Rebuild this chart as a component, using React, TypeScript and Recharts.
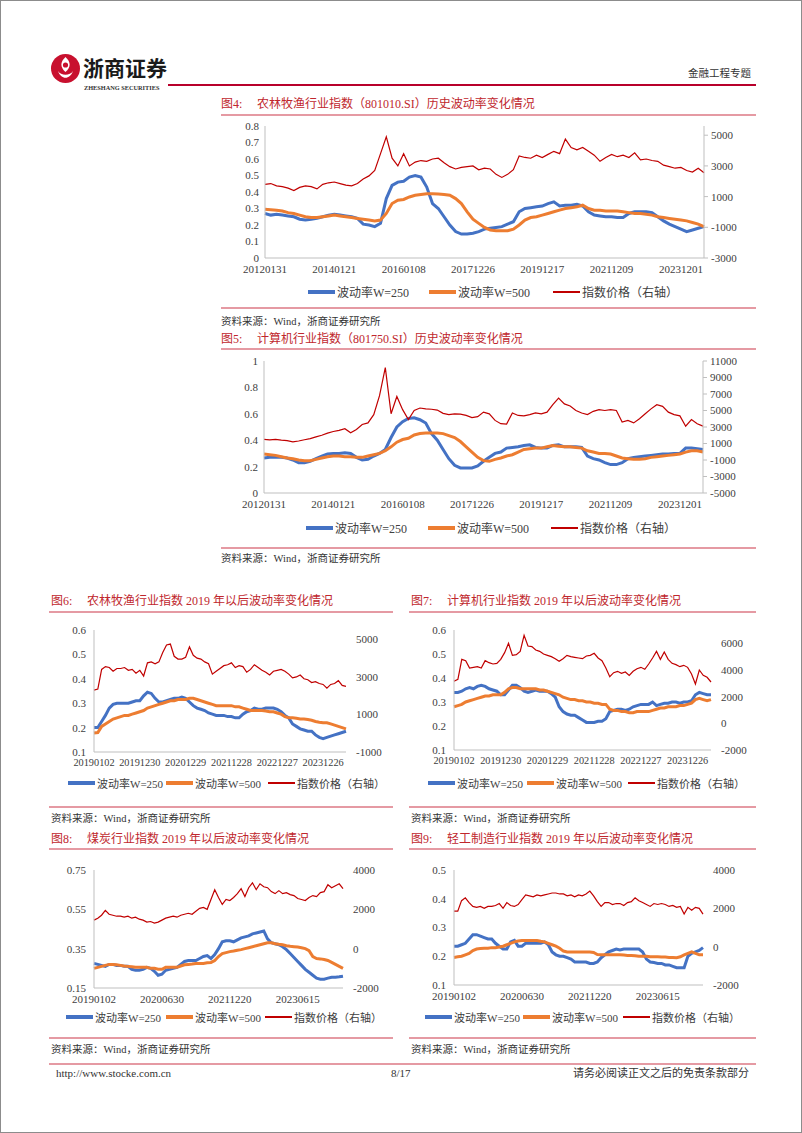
import React from "react";
import { Line, LineChart, XAxis, YAxis } from "recharts";

const BLUE = "#4472C4";
const ORANGE = "#ED7D31";
const RED = "#C00000";
const AXIS = "#BFBFBF";
const TITLE_RED = "#C0272D";
const PINK = "#E59AA3";
const SERIF = '"Liberation Serif", "Noto Sans CJK SC", serif';

const LEGEND = ["波动率W=250", "波动率W=500", "指数价格（右轴）"];
const SOURCE = "资料来源：Wind，浙商证券研究所";

// x tick labels
const X_LONG = ["20120131", "20140121", "20160108", "20171226", "20191217", "20211209", "20231201"];
const X_YEAR = ["20190102", "20191230", "20201229", "20211228", "20221227", "20231226"];
const X_HALF = ["20190102", "20200630", "20211220", "20230615"];

// 图4 农林牧渔 (bimonthly, 2012-2024)
const V250_4 = [0.27, 0.26, 0.265, 0.26, 0.255, 0.25, 0.235, 0.23, 0.235, 0.24,
  0.25, 0.26, 0.265, 0.26, 0.255, 0.25, 0.24, 0.205, 0.2, 0.19,
  0.21, 0.36, 0.44, 0.46, 0.465, 0.49, 0.5, 0.49, 0.43, 0.33,
  0.3, 0.25, 0.2, 0.16, 0.145, 0.145, 0.15, 0.16, 0.175, 0.18,
  0.185, 0.19, 0.205, 0.22, 0.28, 0.3, 0.305, 0.31, 0.315, 0.33,
  0.34, 0.315, 0.32, 0.32, 0.325, 0.315, 0.28, 0.26, 0.255, 0.25,
  0.25, 0.245, 0.245, 0.27, 0.28, 0.28, 0.28, 0.275, 0.25, 0.225,
  0.205, 0.19, 0.175, 0.16, 0.17, 0.18, 0.19];
const V500_4 = [0.295, 0.293, 0.29, 0.285, 0.275, 0.27, 0.26, 0.25, 0.245, 0.245,
  0.25, 0.255, 0.26, 0.255, 0.25, 0.245, 0.24, 0.235, 0.23, 0.225,
  0.23, 0.27, 0.33, 0.35, 0.355, 0.37, 0.38, 0.385, 0.39, 0.39,
  0.388, 0.385, 0.38, 0.36, 0.33, 0.28, 0.235, 0.21, 0.185, 0.17,
  0.165, 0.165, 0.165, 0.175, 0.2, 0.23, 0.245, 0.25, 0.26, 0.27,
  0.28, 0.29, 0.3, 0.305, 0.31, 0.32, 0.3, 0.29, 0.29, 0.285,
  0.285, 0.285, 0.28, 0.275, 0.27, 0.27, 0.265, 0.26, 0.25, 0.245,
  0.24, 0.235, 0.23, 0.225, 0.215, 0.205, 0.19];
const PRICE_4 = [1800, 1850, 1700, 1650, 1550, 1400, 1600, 1700, 1650, 1500,
  1800, 1900, 1950, 1850, 1750, 1700, 1850, 2150, 2350, 2700,
  3800, 4900, 3500, 3000, 3800, 3000, 3250, 3350, 3300, 3450,
  3500, 3200, 2950, 2800, 2900, 2950, 3000, 2750, 2850, 2800,
  2450, 2250, 2450, 2750, 3650, 3550, 3500, 3700, 3550, 3750,
  3950, 3800, 4750, 4200, 4050, 4200, 3950, 3700, 3300, 3550,
  3750, 3600, 3700, 3550, 3850, 3400, 3450, 3350, 3300, 3050,
  2950, 2850, 2900, 2700, 2600, 2850, 2550];

// 图5 计算机
const V250_5 = [0.265, 0.27, 0.27, 0.27, 0.265, 0.25, 0.23, 0.23, 0.24, 0.26,
  0.28, 0.295, 0.3, 0.3, 0.305, 0.3, 0.27, 0.25, 0.255, 0.28,
  0.3, 0.33, 0.42, 0.5, 0.54, 0.565, 0.57, 0.555, 0.53, 0.45,
  0.4, 0.33, 0.26, 0.21, 0.19, 0.19, 0.19, 0.205, 0.24, 0.27,
  0.3, 0.31, 0.34, 0.345, 0.35, 0.36, 0.365, 0.345, 0.34, 0.34,
  0.36, 0.365, 0.35, 0.35, 0.35, 0.345, 0.28, 0.26, 0.25, 0.23,
  0.215, 0.215, 0.23, 0.26, 0.27, 0.275, 0.28, 0.285, 0.29, 0.295,
  0.295, 0.3, 0.3, 0.34, 0.34, 0.335, 0.33];
const V500_5 = [0.295, 0.29, 0.285, 0.275, 0.265, 0.26, 0.25, 0.245, 0.245, 0.255,
  0.265, 0.275, 0.28, 0.28, 0.275, 0.275, 0.27, 0.27, 0.28, 0.29,
  0.3, 0.32, 0.35, 0.385, 0.405, 0.415, 0.44, 0.45, 0.455, 0.455,
  0.455, 0.45, 0.435, 0.42, 0.39, 0.35, 0.31, 0.27, 0.245, 0.24,
  0.255, 0.265, 0.28, 0.29, 0.31, 0.33, 0.335, 0.34, 0.34, 0.35,
  0.36, 0.355, 0.35, 0.35, 0.345, 0.34, 0.32, 0.31, 0.3, 0.3,
  0.295, 0.28, 0.265, 0.26, 0.255, 0.255, 0.26, 0.27, 0.275, 0.28,
  0.285, 0.29, 0.295, 0.31, 0.32, 0.32, 0.31];
const PRICE_5 = [1500, 1450, 1500, 1400, 1350, 1200, 1300, 1450, 1600, 1800,
  2000, 2250, 2450, 2600, 2800, 2300, 2700, 3300, 3500, 4500,
  6800, 10200, 4600, 6700, 5100, 3900, 5000, 5300, 5200, 5150,
  5050, 4650, 4500, 4600, 4550, 4400, 4150, 4250, 4800, 4600,
  3800, 3400, 3350, 4700, 4400, 4350, 4500, 4700, 4600, 4800,
  5700, 6500, 5800, 5550, 5000, 4700, 4500, 4900, 5100, 5000,
  5100, 5000, 3600, 3800, 3500, 4000, 4600, 5200, 5700, 5500,
  4800, 4500, 4350, 3100, 3900, 3400, 3100];

// 图6 农林牧渔 2019以后 (monthly)
const V250_6 = [0.2, 0.2, 0.225, 0.25, 0.28, 0.295, 0.3, 0.3, 0.3, 0.3,
  0.305, 0.31, 0.31, 0.33, 0.345, 0.34, 0.32, 0.305, 0.305, 0.31,
  0.315, 0.32, 0.32, 0.325, 0.32, 0.305, 0.29, 0.28, 0.275, 0.27,
  0.26, 0.255, 0.25, 0.25, 0.25, 0.245, 0.245, 0.24, 0.24, 0.255,
  0.265, 0.27, 0.28, 0.275, 0.275, 0.28, 0.28, 0.28, 0.275, 0.265,
  0.25, 0.24, 0.215, 0.205, 0.195, 0.19, 0.185, 0.185, 0.17, 0.16,
  0.155, 0.16, 0.165, 0.17, 0.175, 0.18, 0.185];
const V500_6 = [0.178, 0.18, 0.205, 0.215, 0.225, 0.235, 0.24, 0.245, 0.25, 0.25,
  0.255, 0.26, 0.265, 0.27, 0.28, 0.285, 0.29, 0.295, 0.3, 0.305,
  0.31, 0.31, 0.315, 0.315, 0.315, 0.32, 0.32, 0.315, 0.31, 0.305,
  0.3, 0.295, 0.29, 0.29, 0.29, 0.29, 0.29, 0.285, 0.285, 0.28,
  0.275, 0.27, 0.27, 0.27, 0.27, 0.268, 0.265, 0.265, 0.26, 0.255,
  0.245, 0.24, 0.24, 0.238, 0.235, 0.235, 0.233, 0.23, 0.225, 0.222,
  0.22, 0.22, 0.215, 0.21, 0.205, 0.2, 0.195];
const PRICE_6 = [2300, 2350, 3400, 3550, 3500, 3300, 3450, 3450, 3500, 3350,
  3400, 3200, 3350, 3050, 3750, 3800, 3700, 3800, 4300, 4700,
  4750, 4100, 3950, 3950, 4050, 4600, 4150, 4000, 3950, 3800,
  3700, 3150, 3300, 3450, 3600, 3650, 3750, 3500, 3600, 3550,
  3250, 3400, 3650, 3500, 3350, 3250, 3100, 3300, 3350, 3400,
  3300, 3150, 2950, 3000, 3100, 2900, 2850, 2700, 2750, 2650,
  2600, 2400, 2600, 2650, 2800, 2550, 2500];

// 图7 计算机 2019以后
const V250_7 = [0.34, 0.34, 0.345, 0.355, 0.36, 0.355, 0.365, 0.37, 0.365, 0.355,
  0.35, 0.345, 0.33, 0.33, 0.35, 0.37, 0.37, 0.36, 0.345, 0.34,
  0.345, 0.35, 0.345, 0.345, 0.345, 0.335, 0.32, 0.28, 0.26, 0.25,
  0.245, 0.245, 0.235, 0.225, 0.215, 0.215, 0.215, 0.22, 0.22, 0.23,
  0.26, 0.265, 0.27, 0.27, 0.265, 0.27, 0.28, 0.285, 0.29, 0.29,
  0.29, 0.3, 0.285, 0.29, 0.295, 0.295, 0.3, 0.3, 0.295, 0.3,
  0.3, 0.305, 0.33, 0.34, 0.335, 0.33, 0.33];
const V500_7 = [0.28, 0.285, 0.29, 0.3, 0.305, 0.31, 0.315, 0.32, 0.325, 0.325,
  0.33, 0.33, 0.33, 0.34, 0.355, 0.36, 0.36, 0.355, 0.355, 0.355,
  0.355, 0.355, 0.35, 0.35, 0.345, 0.34, 0.335, 0.33, 0.32, 0.315,
  0.31, 0.31, 0.305, 0.305, 0.3, 0.3, 0.295, 0.295, 0.29, 0.29,
  0.27, 0.265, 0.265, 0.26, 0.26, 0.255, 0.255, 0.26, 0.26, 0.26,
  0.26, 0.265, 0.27, 0.275, 0.275, 0.28, 0.28, 0.28, 0.285, 0.285,
  0.29, 0.295, 0.31, 0.315, 0.31, 0.305, 0.31];
const PRICE_7 = [3150, 3300, 4800, 4700, 4150, 4200, 4250, 4150, 4700, 4550,
  4450, 4500, 4800, 5300, 6000, 5100, 5150, 5400, 6600, 5800,
  5750, 5500, 5400, 5200, 5100, 5000, 4850, 4650, 4850, 5100,
  5000, 4950, 4900, 4850, 5050, 5100, 5250, 4900, 4700, 4150,
  3500, 3800, 3900, 3750, 3850, 3600, 3900, 4100, 4200, 4050,
  4450, 4900, 5400, 4800, 5350, 4800, 4500, 4400, 4250, 4350,
  4200, 3700, 2950, 4000, 3600, 3450, 3100];

// 图8 煤炭 2019以后
const V250_8 = [0.275, 0.27, 0.265, 0.26, 0.27, 0.27, 0.265, 0.265, 0.26, 0.26,
  0.245, 0.24, 0.24, 0.245, 0.255, 0.25, 0.235, 0.215, 0.22, 0.24,
  0.245, 0.25, 0.255, 0.27, 0.285, 0.29, 0.29, 0.29, 0.3, 0.31,
  0.315, 0.3, 0.32, 0.35, 0.385, 0.39, 0.39, 0.385, 0.395, 0.405,
  0.41, 0.415, 0.425, 0.43, 0.435, 0.44, 0.4, 0.38, 0.375, 0.37,
  0.36, 0.345, 0.325, 0.305, 0.285, 0.265, 0.245, 0.23, 0.215, 0.2,
  0.195, 0.195, 0.2, 0.205, 0.205, 0.207, 0.21];
const V500_8 = [0.25, 0.255, 0.26, 0.265, 0.27, 0.27, 0.268, 0.265, 0.262, 0.26,
  0.258, 0.255, 0.255, 0.255, 0.255, 0.25, 0.25, 0.245, 0.245, 0.255,
  0.255, 0.255, 0.255, 0.262, 0.268, 0.27, 0.272, 0.275, 0.275, 0.275,
  0.278, 0.28, 0.29, 0.31, 0.325, 0.33, 0.335, 0.338, 0.342, 0.345,
  0.35, 0.355, 0.36, 0.365, 0.37, 0.375, 0.38, 0.38, 0.375, 0.372,
  0.37, 0.365, 0.362, 0.36, 0.358, 0.355, 0.35, 0.34, 0.31, 0.3,
  0.298, 0.295, 0.29, 0.28, 0.27, 0.26, 0.25];
const PRICE_8 = [1450, 1550, 1700, 1950, 1750, 1700, 1650, 1650, 1600, 1650,
  1550, 1600, 1500, 1450, 1350, 1380, 1300, 1350, 1450, 1550,
  1600, 1650, 1600, 1700, 1750, 1800, 1750, 1900, 2050, 2100,
  2000, 2500, 3000, 2600, 2250, 2500, 2450, 2600, 2800, 3050,
  2650, 3100, 3350, 3000, 3300, 3150, 3100, 2900, 2800, 2950,
  2800, 2850, 2750, 2700, 2550, 2500, 2450, 2600, 2700, 2650,
  2850, 2900, 3250, 3100, 3200, 3300, 3050];

// 图9 轻工制造 2019以后
const V250_9 = [0.235, 0.235, 0.24, 0.245, 0.26, 0.275, 0.275, 0.27, 0.265, 0.26,
  0.26, 0.245, 0.235, 0.225, 0.225, 0.25, 0.255, 0.235, 0.235, 0.245,
  0.245, 0.245, 0.245, 0.245, 0.25, 0.24, 0.215, 0.205, 0.2, 0.2,
  0.195, 0.19, 0.18, 0.18, 0.18, 0.18, 0.175, 0.175, 0.18, 0.195,
  0.205, 0.215, 0.22, 0.225, 0.222, 0.225, 0.225, 0.225, 0.225, 0.225,
  0.215, 0.19, 0.18, 0.178, 0.175, 0.175, 0.17, 0.17, 0.165, 0.16,
  0.16, 0.16, 0.2, 0.21, 0.215, 0.22, 0.23];
const V500_9 = [0.196, 0.198, 0.2, 0.205, 0.21, 0.22, 0.225, 0.227, 0.228, 0.228,
  0.23, 0.23, 0.232, 0.235, 0.24, 0.245, 0.25, 0.253, 0.255, 0.255,
  0.255, 0.255, 0.255, 0.252, 0.25, 0.245, 0.24, 0.235, 0.228, 0.218,
  0.215, 0.215, 0.215, 0.215, 0.215, 0.215, 0.215, 0.213, 0.206, 0.205,
  0.205, 0.205, 0.205, 0.205, 0.205, 0.204, 0.203, 0.203, 0.202, 0.2,
  0.2, 0.2, 0.198, 0.198, 0.198, 0.197, 0.197, 0.196, 0.196, 0.195,
  0.198, 0.205, 0.21, 0.215, 0.21, 0.205, 0.205];
const PRICE_9 = [1850, 1850, 2400, 2550, 2300, 2100, 2050, 2100, 2000, 2100,
  2100, 2150, 2250, 2000, 2300, 2150, 2100, 2200, 2450, 2700,
  2650, 2600, 2700, 2650, 2700, 2750, 2800, 2800, 2750, 2750,
  2650, 2700, 2600, 2700, 2650, 2750, 2900, 2650, 2350, 2100,
  2300, 2300, 2200, 2250, 2250, 2150, 2300, 2350, 2550, 2400,
  2300, 2200, 2100, 2250, 2200, 2250, 2200, 2100, 2150, 2050,
  2100, 1700, 2050, 1900, 2050, 2000, 1700];

type ChartProps = {
  left: number;
  top: number;
  width: number;
  height: number;
  v250: number[];
  v500: number[];
  price: number[];
  xLabels: string[];
  step: number;
  yL: [number, number];
  yLTicks: number[];
  yR: [number, number];
  yRTicks: number[];
  rightLine: boolean;
  fs: number;
  xfs: number;
};

function VolChart(p: ChartProps) {
  const WL = 50;
  const WR = 60;
  const MT = 8;
  const XH = 24;
  const data = p.v250.map((v, i) => ({ i, a: v, b: p.v500[i], c: p.price[i] }));
  const xTicks = p.xLabels.map((_, k) => k * p.step);
  const tick = { fontSize: p.fs, fill: "#404040", fontFamily: SERIF };
  return (
    <div style={{ position: "absolute", left: p.left - WL, top: p.top - MT }}>
      <LineChart
        width={WL + p.width + WR}
        height={MT + p.height + XH}
        data={data}
        margin={{ top: MT, right: 0, bottom: 0, left: 0 }}
      >
        <XAxis
          dataKey="i"
          type="number"
          domain={[0, data.length - 1]}
          ticks={xTicks}
          interval={0}
          tickFormatter={(v) => p.xLabels[Math.round(v / p.step)]}
          tick={{ ...tick, fontSize: p.xfs }}
          tickLine={false}
          tickSize={4}
          tickMargin={3}
          axisLine={{ stroke: AXIS }}
          height={XH}
        />
        <YAxis
          yAxisId="l"
          domain={p.yL}
          ticks={p.yLTicks}
          interval={0}
          tick={tick}
          tickLine={false}
          tickSize={3}
          tickMargin={p.rightLine ? 3 : 5}
          axisLine={{ stroke: AXIS }}
          width={WL}
        />
        <YAxis
          yAxisId="r"
          orientation="right"
          domain={p.yR}
          ticks={p.yRTicks}
          interval={0}
          tick={tick}
          tickLine={p.rightLine ? { stroke: AXIS } : false}
          tickSize={p.rightLine ? 4 : 5}
          tickMargin={p.rightLine ? 3 : 5}
          axisLine={p.rightLine ? { stroke: AXIS } : false}
          width={WR}
        />
        <Line yAxisId="l" dataKey="a" stroke={BLUE} strokeWidth={3} dot={false} isAnimationActive={false} />
        <Line yAxisId="l" dataKey="b" stroke={ORANGE} strokeWidth={3} dot={false} isAnimationActive={false} />
        <Line yAxisId="r" dataKey="c" stroke={RED} strokeWidth={1.2} dot={false} isAnimationActive={false} />
      </LineChart>
    </div>
  );
}

function Txt(props: {
  x?: number;
  right?: number;
  y: number;
  size: number;
  color?: string;
  bold?: boolean;
  family?: string;
  children: React.ReactNode;
}) {
  return (
    <div
      style={{
        position: "absolute",
        left: props.x,
        right: props.right,
        top: props.y - props.size * 0.6,
        fontSize: props.size,
        lineHeight: `${props.size * 1.2}px`,
        color: props.color ?? "#333",
        fontWeight: props.bold ? 700 : 400,
        fontFamily: props.family ?? SERIF,
        whiteSpace: "nowrap",
      }}
    >
      {props.children}
    </div>
  );
}

function Rule({ x1, x2, y, color = PINK, h = 1.5 }: { x1: number; x2: number; y: number; color?: string; h?: number }) {
  return <div style={{ position: "absolute", left: x1, top: y - h / 2, width: x2 - x1, height: h, background: color }} />;
}

function Title({ x, y, num, text }: { x: number; y: number; num: number; text: string }) {
  return (
    <Txt x={x} y={y} size={12} color={TITLE_RED}>
      <span style={{ display: "inline-block", width: 36 }}>图{num}:</span>
      {text}
    </Txt>
  );
}

function VolLegend({ y, xs, fs }: { y: number; xs: number[]; fs: number }) {
  const marks = [
    { color: BLUE, h: 3.5 },
    { color: ORANGE, h: 3.5 },
    { color: RED, h: 1.5 },
  ];
  return (
    <>
      {marks.map((m, k) => (
        <div
          key={k}
          style={{
            position: "absolute",
            left: xs[k],
            top: y - 10,
            height: 20,
            display: "flex",
            alignItems: "center",
            fontSize: fs,
            fontFamily: SERIF,
            color: "#404040",
            whiteSpace: "nowrap",
          }}
        >
          <span style={{ display: "inline-block", width: 27, height: m.h, background: m.color, marginRight: 2 }} />
          <span>{LEGEND[k]}</span>
        </div>
      ))}
    </>
  );
}

function Logo() {
  return (
    <svg style={{ position: "absolute", left: 49, top: 52 }} width={31} height={31} viewBox="0 0 31 31">
      <circle cx={15.5} cy={15.5} r={14.5} fill="#C8102E" />
      <path d="M15.5 4 C10 9 10 14 15.5 19 C21 14 21 9 15.5 4 Z" fill="#fff" />
      <path d="M8 18 C11 23 20 23 23 18 C20 27 11 27 8 18 Z" fill="#fff" />
      <circle cx={15.5} cy={12} r={2.6} fill="#C8102E" />
    </svg>
  );
}

export default function App() {
  return (
    <div
      style={{
        position: "absolute",
        left: 0,
        top: 0,
        width: 802,
        height: 1133,
        background: "#fff",
        border: "1px solid #8c8c8c",
        boxSizing: "border-box",
        overflow: "hidden",
        fontFamily: SERIF,
      }}
    >
      {/* header */}
      <Logo />
      <Txt x={82} y={67} size={21} bold color="#1a1a1a" family='"Noto Sans CJK SC", sans-serif'>
        浙商证券
      </Txt>
      <Txt x={83} y={87} size={6.3} bold color="#333">
        ZHESHANG SECURITIES
      </Txt>
      <Rule x1={167} x2={755} y={84} color="#B8002B" h={2} />
      <Txt x={687} y={73} size={10.5} color="#333">
        金融工程专题
      </Txt>

      {/* 图4 */}
      <Title x={220} y={103} num={4} text="农林牧渔行业指数（801010.SI）历史波动率变化情况" />
      <Rule x1={220} x2={755} y={114} />
      <VolChart
        left={264} top={125} width={439} height={132}
        v250={V250_4} v500={V500_4} price={PRICE_4}
        xLabels={X_LONG} step={12}
        yL={[0, 0.8]} yLTicks={[0, 0.1, 0.2, 0.3, 0.4, 0.5, 0.6, 0.7, 0.8]}
        yR={[-3000, 5600]} yRTicks={[-3000, -1000, 1000, 3000, 5000]}
        rightLine fs={11} xfs={11}
      />
      <VolLegend y={291} xs={[307, 428, 552]} fs={12} />
      <Rule x1={220} x2={755} y={307} />
      <Txt x={220} y={321} size={10.5}>{SOURCE}</Txt>

      {/* 图5 */}
      <Title x={220} y={338} num={5} text="计算机行业指数（801750.SI）历史波动率变化情况" />
      <Rule x1={220} x2={755} y={348} />
      <VolChart
        left={263} top={360} width={439} height={132}
        v250={V250_5} v500={V500_5} price={PRICE_5}
        xLabels={X_LONG} step={12}
        yL={[0, 1]} yLTicks={[0, 0.2, 0.4, 0.6, 0.8, 1]}
        yR={[-5000, 11000]} yRTicks={[-5000, -3000, -1000, 1000, 3000, 5000, 7000, 9000, 11000]}
        rightLine fs={11} xfs={11}
      />
      <VolLegend y={527} xs={[305, 427, 550]} fs={12} />
      <Rule x1={220} x2={755} y={547} />
      <Txt x={220} y={558} size={10.5}>{SOURCE}</Txt>

      {/* 图6 / 图7 */}
      <Title x={50} y={600} num={6} text="农林牧渔行业指数 2019 年以后波动率变化情况" />
      <Title x={410} y={600} num={7} text="计算机行业指数 2019 年以后波动率变化情况" />
      <Rule x1={48} x2={392} y={611} />
      <Rule x1={408} x2={755} y={611} />
      <VolChart
        left={93} top={629} width={252} height={122}
        v250={V250_6} v500={V500_6} price={PRICE_6}
        xLabels={X_YEAR} step={12}
        yL={[0.1, 0.6]} yLTicks={[0.1, 0.2, 0.3, 0.4, 0.5, 0.6]}
        yR={[-1000, 5500]} yRTicks={[-1000, 1000, 3000, 5000]}
        rightLine={false} fs={11} xfs={10.3}
      />
      <VolChart
        left={453} top={629} width={257} height={120}
        v250={V250_7} v500={V500_7} price={PRICE_7}
        xLabels={X_YEAR} step={12}
        yL={[0.1, 0.6]} yLTicks={[0.1, 0.2, 0.3, 0.4, 0.5, 0.6]}
        yR={[-2000, 7000]} yRTicks={[-2000, 0, 2000, 4000, 6000]}
        rightLine={false} fs={11} xfs={10.3}
      />
      <VolLegend y={782} xs={[67, 165, 267]} fs={11} />
      <VolLegend y={782} xs={[427, 526, 627]} fs={11} />
      <Rule x1={48} x2={392} y={806} />
      <Rule x1={408} x2={755} y={806} />
      <Txt x={50} y={818} size={10.5}>{SOURCE}</Txt>
      <Txt x={410} y={818} size={10.5}>{SOURCE}</Txt>

      {/* 图8 / 图9 */}
      <Title x={50} y={838} num={8} text="煤炭行业指数 2019 年以后波动率变化情况" />
      <Title x={410} y={838} num={9} text="轻工制造行业指数 2019 年以后波动率变化情况" />
      <Rule x1={48} x2={392} y={848} />
      <Rule x1={408} x2={755} y={848} />
      <VolChart
        left={93} top={869} width={249} height={118}
        v250={V250_8} v500={V500_8} price={PRICE_8}
        xLabels={X_HALF} step={18}
        yL={[0.15, 0.75]} yLTicks={[0.15, 0.35, 0.55, 0.75]}
        yR={[-2000, 4000]} yRTicks={[-2000, 0, 2000, 4000]}
        rightLine={false} fs={11} xfs={11}
      />
      <VolChart
        left={453} top={869} width={249} height={115}
        v250={V250_9} v500={V500_9} price={PRICE_9}
        xLabels={X_HALF} step={18}
        yL={[0.1, 0.5]} yLTicks={[0.1, 0.2, 0.3, 0.4, 0.5]}
        yR={[-2000, 4000]} yRTicks={[-2000, 0, 2000, 4000]}
        rightLine={false} fs={11} xfs={11}
      />
      <VolLegend y={1016} xs={[65, 165, 264]} fs={11} />
      <VolLegend y={1016} xs={[424, 522, 622]} fs={11} />
      <Rule x1={48} x2={392} y={1037} />
      <Rule x1={408} x2={755} y={1037} />
      <Txt x={50} y={1049} size={10.5}>{SOURCE}</Txt>
      <Txt x={410} y={1049} size={10.5}>{SOURCE}</Txt>

      {/* footer */}
      <Rule x1={48} x2={755} y={1063} />
      <Txt x={55} y={1073} size={11}>http://www.stocke.com.cn</Txt>
      <Txt x={390} y={1073} size={11}>8/17</Txt>
      <Txt right={52} y={1073} size={11}>请务必阅读正文之后的免责条款部分</Txt>
    </div>
  );
}
